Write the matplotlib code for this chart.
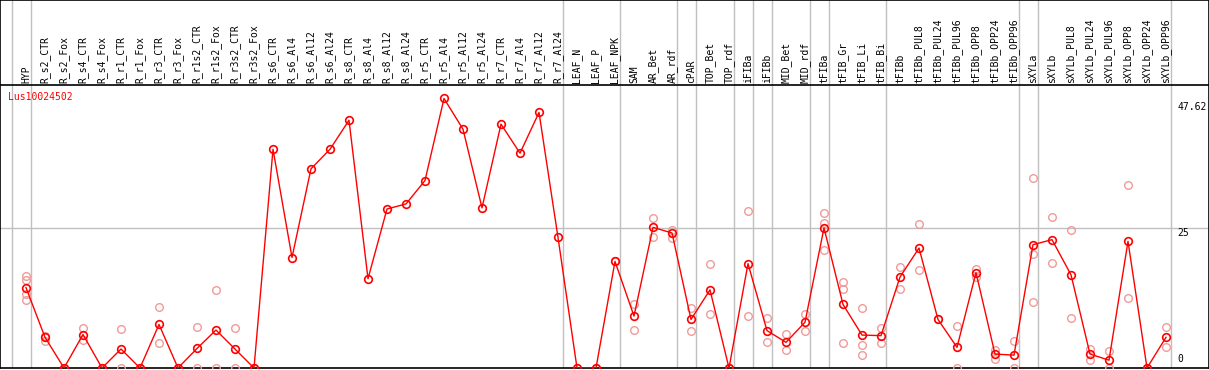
import matplotlib
matplotlib.use("Agg")
import matplotlib.pyplot as plt

# column labels, one per sample
labels = ["HYP", "R_s2_CTR", "R_s2_Fox", "R_s4_CTR", "R_s4_Fox", "R_r1_CTR", "R_r1_Fox",
          "R_r3_CTR", "R_r3_Fox", "R_r1s2_CTR", "R_r1s2_Fox", "R_r3s2_CTR", "R_r3s2_Fox",
          "R_s6_CTR", "R_s6_Al4", "R_s6_Al12", "R_s6_Al24", "R_s8_CTR", "R_s8_Al4",
          "R_s8_Al12", "R_s8_Al24", "R_r5_CTR", "R_r5_Al4", "R_r5_Al12", "R_r5_Al24",
          "R_r7_CTR", "R_r7_Al4", "R_r7_Al12", "R_r7_Al24", "LEAF_N", "LEAF_P", "LEAF_NPK",
          "SAM", "AR_Bet", "AR_rdf", "cPAR", "TOP_Bet", "TOP_rdf", "iFIBa", "iFIBb",
          "MID_Bet", "MID_rdf", "tFIBa", "tFIB_Gr", "tFIB_Li", "tFIB_Bi", "tFIBb",
          "tFIBb_PUL8", "tFIBb_PUL24", "tFIBb_PUL96", "tFIBb_OPP8", "tFIBb_OPP24",
          "tFIBb_OPP96", "sXYLa", "sXYLb", "sXYLb_PUL8", "sXYLb_PUL24", "sXYLb_PUL96",
          "sXYLb_OPP8", "sXYLb_OPP24", "sXYLb_OPP96"]

# mean expression per column
means = [14.4, 5.5, 0, 6.0, 0, 3.4, 0, 7.8, 0, 3.5, 6.8, 3.4, 0,
         39.2, 19.8, 35.7, 39.2, 44.4, 16.0, 28.5, 29.4, 33.6, 48.3, 42.8, 28.7,
         43.7, 38.5, 45.8, 23.4, 0, 0, 19.1,
         9.3, 25.2, 24.2, 8.7, 14.0, 0, 18.7, 6.7, 4.6, 8.2, 25.1, 11.4, 5.9, 5.8,
         16.3, 21.5, 8.7, 3.7, 17.1, 2.5, 2.3, 22.1, 23.0, 16.7, 2.5, 1.4, 22.7, 0, 5.5]

# individual replicates (pale circles)
replicates = [[16.4, 15.7, 13.3, 12.1], [5.7, 4.9], [0, 0], [7.1, 5.0], [0, 0],
              [6.9, 0], [0, 0], [11.0, 4.4], [0, 0], [7.3, 0], [13.9, 0], [7.1, 0], [0, 0],
              [], [], [], [], [], [], [], [], [], [], [], [], [], [], [], [],
              [0], [0], [19.1],
              [11.5, 6.8], [26.8, 23.4], [24.8, 23.3], [10.7, 6.6], [18.7, 9.6], [0, 0],
              [28.2, 9.3], [9.0, 4.6], [6.1, 3.3], [9.6, 6.6], [27.8, 26.0, 21.2],
              [15.4, 14.2, 4.4], [10.8, 4.2, 2.3], [7.1, 4.4], [18.1, 14.2],
              [25.8, 17.5], [8.7], [7.6, 0], [17.7, 16.3], [3.2, 1.6], [4.8, 0],
              [34.1, 20.5, 11.8], [27.1, 18.9], [24.8, 8.9], [3.4, 1.4], [3.0, 0],
              [32.8, 12.6], [0, 0], [7.3, 3.7]]

# group separators sit just right of these column indexes
group_ends = [-1, 0, 28, 31, 34, 35, 37, 38, 39, 41, 42, 45, 52, 53, 60]
y_marks = [47.62, 25, 0]
gene = "Lus10024502"

W, H = 1209, 370
fig = plt.figure(figsize=(W / 100, H / 100), dpi=100)
ax = fig.add_axes([0, 2 / H, 1, (H - 2) / H])

px_per_x = 19.0
px_per_y = 5.58
x0 = 26
ax.set_xlim(-x0 / px_per_x, (W - x0) / px_per_x)
ax.set_ylim(0, (H - 2) / px_per_y)
ax.set_xticks([])
ax.set_yticks([])
for sp in ax.spines.values():
    sp.set_color("black")
    sp.set_linewidth(1.2)

grey = "#c0c0c0"
for g in group_ends:
    ax.axvline(g + 0.24, color=grey, lw=1, zorder=1)
ax.axhline(25, color=grey, lw=1, zorder=1)

label_base = (H - 2 - 85) / px_per_y
ax.axhline(label_base, color="black", lw=1.2, zorder=2)

mono = "DejaVu Sans Mono"
for i, lab in enumerate(labels):
    ax.text(i, label_base + 0.3, lab, rotation=90, ha="center", va="bottom",
            fontsize=7, family=mono, color="black")

# replicates
for i, reps in enumerate(replicates):
    if reps:
        ax.plot([i] * len(reps), reps, linestyle="none", marker="o", ms=5.5,
                mfc="none", mec="#f09a9a", mew=1, zorder=3)

x = list(range(len(means)))
ax.plot(x, means, color="red", lw=1, marker="o", ms=5.5, mfc="none",
        mec="red", mew=1.2, zorder=4)

ax.text(8 / px_per_x - x0 / px_per_x, 48.6, gene, color="red", fontsize=7,
        family=mono, ha="left", va="center")

xr = (1177 - x0) / px_per_x
ax.text(xr, 47.62, "47.62", fontsize=7, family=mono, ha="left", va="top")
ax.text(xr, 25, "25", fontsize=7, family=mono, ha="left", va="top")
ax.text(xr, 0.7, "0", fontsize=7, family=mono, ha="left", va="bottom")

fig.savefig("out.png", dpi=100)
